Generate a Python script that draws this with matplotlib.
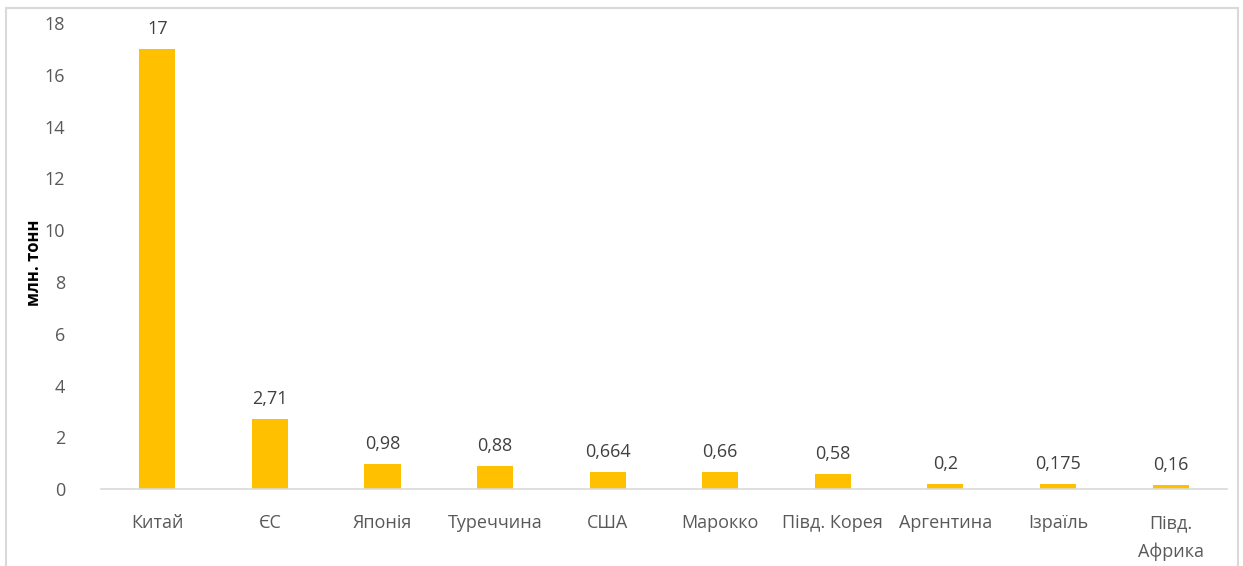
import matplotlib.pyplot as plt
from matplotlib.patches import Rectangle

countries = ['Китай', 'ЄС', 'Японія', 'Туреччина', 'США', 'Марокко',
             'Півд. Корея', 'Аргентина', 'Ізраїль', 'Півд.\nАфрика']
values = [17, 2.71, 0.98, 0.88, 0.664, 0.66, 0.58, 0.2, 0.175, 0.16]
value_labels = ['17', '2,71', '0,98', '0,88', '0,664', '0,66', '0,58',
                '0,2', '0,175', '0,16']
yticks = [0, 2, 4, 6, 8, 10, 12, 14, 16, 18]

plt.rcParams['font.family'] = ['Open Sans', 'DejaVu Sans']

fig = plt.figure(figsize=(12.43, 5.66), dpi=100)
ax = fig.add_axes([0.0813, 0.136, 0.9057, 0.823])

x = range(len(countries))
bars = ax.bar(x, values, width=0.32, color='#FFC000', zorder=2)

for xi, v, lab in zip(x, values, value_labels):
    ax.annotate(lab, (xi, v), xytext=(0, 8), textcoords='offset points',
                ha='center', va='bottom', fontsize=13, color='#404040')

ax.set_xlim(-0.5, len(countries) - 0.5)
ax.set_ylim(0, 18)
ax.set_yticks(yticks)
ax.set_yticklabels([str(t) for t in yticks])
ax.set_xticks(list(x))
ax.set_xticklabels(countries, linespacing=1.7)

ax.tick_params(axis='both', length=0, labelsize=13, colors='#595959')
ax.tick_params(axis='x', pad=18)
ax.tick_params(axis='y', pad=26)

for side in ['top', 'right', 'left']:
    ax.spines[side].set_visible(False)
ax.spines['bottom'].set_color('#D9D9D9')
ax.spines['bottom'].set_linewidth(1.2)

fig.text(0.027, 0.535, 'млн. тонн', rotation=90, ha='center', va='center',
         fontsize=12, fontweight='bold', color='black')

# chart border
fig.patches.append(Rectangle((6 / 1243, -0.05), 1232 / 1243, 1.05 - 8 / 566,
                             transform=fig.transFigure, fill=False,
                             edgecolor='#D9D9D9', linewidth=1.5))

fig.savefig('out.png', dpi=100)
